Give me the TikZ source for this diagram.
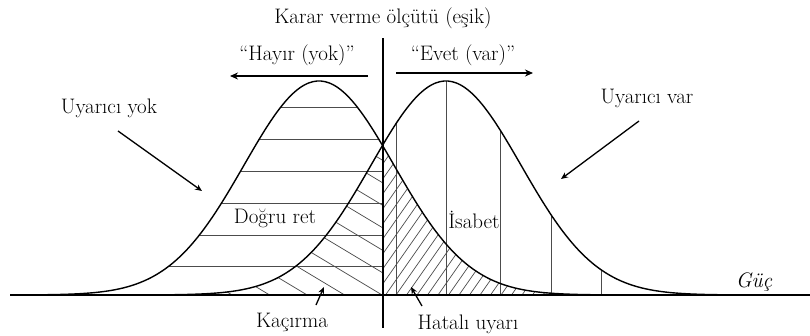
\documentclass[tikz,border=0pt]{standalone}
\usetikzlibrary{arrows.meta}
\begin{document}
\begin{tikzpicture}[x=1pt,y=-1pt,
  lbl/.style={font=\fontsize{21}{25}\selectfont, inner sep=0pt},
  curve/.style={line width=1.4pt},
  fill lines/.style={line width=0.7pt, black!70},
  ptr/.style={line width=1.3pt, -{Stealth[length=7pt,width=6pt]}},
  dirarrow/.style={line width=1.6pt, -{Stealth[length=8pt,width=7pt]}}]
\useasboundingbox (0,0) rectangle (810,335);
\def\muL{319}\def\muR{446}\def\sg{75}\def\hh{214}\def\bl{295}
% horizontal lines (Dogru ret) inside left curve, left of threshold
\begin{scope}
  \clip plot[domain=19:619,samples=120,smooth] (\x,{\bl-\hh*exp(-0.5*((\x-\muL)/\sg)^2)}) -- cycle;
  \clip (0,0) rectangle (383,300);
  \foreach \yy in {107,139,171,203,235,266}
    \draw[fill lines] (0,\yy) -- (400,\yy);
\end{scope}
% vertical lines (Isabet) inside right curve
\begin{scope}
  \clip plot[domain=146:746,samples=120,smooth] (\x,{\bl-\hh*exp(-0.5*((\x-\muR)/\sg)^2)}) -- cycle;
  \foreach \xx in {396,446,500,551,601}
    \draw[fill lines] (\xx,60) -- (\xx,300);
\end{scope}
% Kacirma hatching: under right curve, left of threshold
\begin{scope}
  \clip plot[domain=146:746,samples=120,smooth] (\x,{\bl-\hh*exp(-0.5*((\x-\muR)/\sg)^2)}) -- cycle;
  \clip (0,0) rectangle (383,300);
  \foreach \k in {0,...,12}
    \draw[fill lines] (583,{138+\k*22.5+120}) -- (83,{138+\k*22.5-180});
\end{scope}
% Hatali uyari hatching: under left curve, right of threshold
\begin{scope}
  \clip plot[domain=19:619,samples=120,smooth] (\x,{\bl-\hh*exp(-0.5*((\x-\muL)/\sg)^2)}) -- cycle;
  \clip (383,0) rectangle (810,300);
  \foreach \k in {0,...,36}
    \draw[fill lines] ({270+\k*10.5-105},445) -- ({270+\k*10.5+105},145);
\end{scope}
% baseline
\draw[line width=1.2pt] (10,\bl) -- (810,\bl);
% curves
\draw[curve] plot[domain=19:619,samples=150,smooth] (\x,{\bl-\hh*exp(-0.5*((\x-\muL)/\sg)^2)});
\draw[curve] plot[domain=146:746,samples=150,smooth] (\x,{\bl-\hh*exp(-0.5*((\x-\muR)/\sg)^2)});
% threshold
\coordinate (thtop) at (383,38);
\coordinate (thbot) at (383,328);
\draw[line width=2.4pt] (thtop) -- (thbot);
% labels
\node[lbl] (title) at (383,18) {Karar verme ölçütü (eşik)};
\node[lbl] (hayir) at (297,55) {“Hayır (yok)”};
\node[lbl] (evet) at (463,55) {“Evet (var)”};
\node[lbl] (uyok) at (109,108) {Uyarıcı yok};
\node[lbl] (uvar) at (647,98) {Uyarıcı var};
\node[lbl] (dogru) at (275,218) {Doğru ret};
\node[lbl] (isabet) at (474,220) {İsabet};
\node[lbl] (kacirma) at (292,322) {Kaçırma};
\node[lbl] (hatali) at (468,324) {Hatalı uyarı};
\node[lbl,font=\fontsize{21}{25}\selectfont\itshape] (guc) at (754,282) {Güç};
% direction arrows
\coordinate (hs) at (368,76); \coordinate (he) at (230,76);
\coordinate (es) at (396,73); \coordinate (ee) at (533,73);
\draw[dirarrow] (hs) -- (he);
\draw[dirarrow] (es) -- (ee);
% pointer arrows
\coordinate (a1s) at (118,131); \coordinate (a1e) at (202,191);
\coordinate (a2s) at (639,121); \coordinate (a2e) at (561,179);
\coordinate (a3s) at (316,305); \coordinate (a3e) at (324,287);
\coordinate (a4s) at (422,306); \coordinate (a4e) at (411,287);
\draw[ptr] (a1s) -- (a1e);
\draw[ptr] (a2s) -- (a2e);
\draw[ptr] (a3s) -- (a3e);
\draw[ptr] (a4s) -- (a4e);
\end{tikzpicture}
\end{document}
